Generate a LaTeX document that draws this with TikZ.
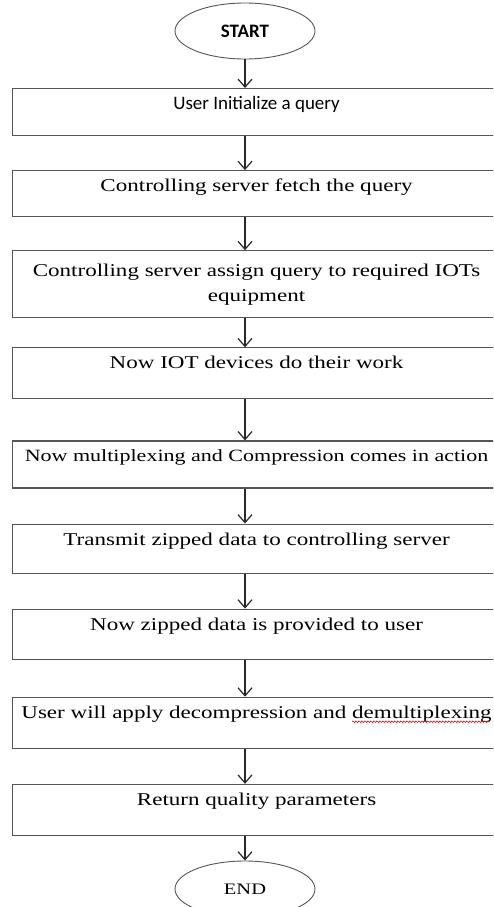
\documentclass[tikz,border=0pt]{standalone}
\usepackage{fontspec}
\usepackage{tikz}
\usetikzlibrary{calc,arrows.meta,positioning,shapes.geometric,decorations.pathmorphing}

\newfontfamily\boxfont[FakeStretch=1.28]{Liberation Serif}
\newfontfamily\calfont{Carlito}
\definecolor{boxgray}{RGB}{85,85,85}
\definecolor{arrowgray}{RGB}{40,40,40}

\tikzset{
	terminal/.style={draw=boxgray,line width=0.9pt,ellipse,minimum width=140pt,minimum height=56pt,inner sep=0pt},
	procbox/.style={draw=boxgray,line width=1.1pt,rectangle,minimum width=488pt,inner sep=3pt,align=center,font=\boxfont\fontsize{18}{25}\selectfont},
	onerow/.style={text height=18pt,text depth=#1},
	flowarrow/.style={draw=arrowgray,line width=1.2pt,-{Straight Barb[length=8pt,width=14pt]}}
}

\begin{document}
\begin{tikzpicture}[x=1pt,y=1pt]
	\useasboundingbox (0,0) rectangle (493,-907);
	\clip (0,0) rectangle (493,-907);
	\node[terminal,font=\calfont\bfseries\fontsize{19}{22}\selectfont] (start) at (245,-31) {START};
	\node[procbox,onerow=23pt,anchor=north west,font=\calfont\fontsize{19}{22}\selectfont] (b1) at (12,-88)
	{User Initialize a query};
	\node[procbox,onerow=22pt] (b2) [below=34pt of b1]
	{Controlling server fetch the query};
	\node[procbox,minimum height=67pt] (b3) [below=33pt of b2]
	{Controlling server assign query to required IOTs\\equipment};
	\node[procbox,onerow=27pt] (b4) [below=29pt of b3]
	{Now IOT devices do their work};
	\node[procbox,onerow=23pt,font=\boxfont\fontsize{17.2}{22}\selectfont] (b5) [below=41pt of b4]
	{Now multiplexing and Compression comes in action};
	\node[procbox,onerow=25pt] (b6) [below=35pt of b5]
	{Transmit zipped data to controlling server};
	\node[procbox,onerow=26pt] (b7) [below=35pt of b6]
	{Now zipped data is provided to user};
	\node[procbox,onerow=27pt] (b8) [below=37pt of b7]
	{User will apply decompression and demultiplexing};
	\node[procbox,onerow=27pt] (b9) [below=35pt of b8]
	{Return quality parameters};
	\node[terminal,font=\boxfont\fontsize{16}{20}\selectfont] (end) at (245,-889) {END};
	\draw[flowarrow] (start) -- (start |- b1.north);
	\draw[flowarrow] (b1.south -| start) -- (b2.north -| start);
	\draw[flowarrow] (b2.south -| start) -- (b3.north -| start);
	\draw[flowarrow] (b3.south -| start) -- (b4.north -| start);
	\draw[flowarrow] (b4.south -| start) -- (b5.north -| start);
	\draw[flowarrow] (b5.south -| start) -- (b6.north -| start);
	\draw[flowarrow] (b6.south -| start) -- (b7.north -| start);
	\draw[flowarrow] (b7.south -| start) -- (b8.north -| start);
	\draw[flowarrow] (b8.south -| start) -- (b9.north -| start);
	\draw[flowarrow] (b9.south -| start) -- (end);
	\draw[red,line width=0.6pt,decorate,decoration={snake,amplitude=0.8pt,segment length=3pt}]
	($(b8.north west)+(340,-25)$) -- ($(b8.north west)+(478,-25)$);
\end{tikzpicture}
\end{document}
